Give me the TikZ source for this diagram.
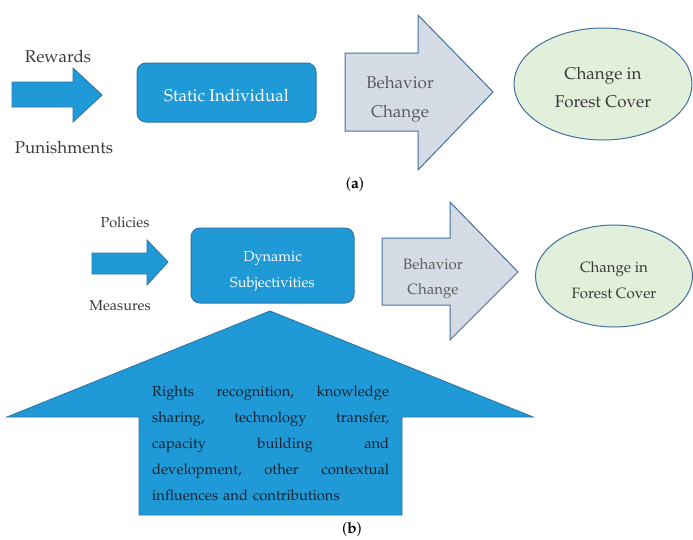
\documentclass[tikz,border=0pt]{standalone}
\usepackage[T1]{fontenc}
\usepackage{mathpazo}
\usetikzlibrary{shapes.geometric}

\definecolor{flowblue}{RGB}{31,154,214}
\definecolor{flowedge}{RGB}{46,117,170}
\definecolor{paleblue}{RGB}{214,220,229}
\definecolor{paleedge}{RGB}{65,113,156}
\definecolor{palegreen}{RGB}{226,239,218}
\definecolor{labelgray}{RGB}{58,58,58}
\definecolor{softgray}{RGB}{92,92,92}
\definecolor{inktext}{RGB}{24,34,46}

\tikzset{
  bluearrow/.style={fill=flowblue, draw=flowedge, line width=0.9pt, line join=miter},
  palearrow/.style={fill=paleblue, draw=paleedge, line width=1pt, line join=miter},
  bluebox/.style={fill=flowblue, draw=flowedge, line width=1pt, rounded corners=9pt, inner sep=0pt},
  boxtext/.style={text=white, align=center, inner sep=0pt},
  forest/.style={ellipse, fill=palegreen, draw=paleedge, line width=1pt, inner sep=0pt},
  foresttext/.style={text=labelgray, align=center, inner sep=0pt},
  sidelabel/.style={text=labelgray, inner sep=0pt},
  arrowlabel/.style={text=softgray, align=center, inner sep=0pt},
  panel/.style={text=black, inner sep=0pt},
}

\begin{document}
\begin{tikzpicture}[x=1pt, y=-1pt]
\useasboundingbox (0,0) rectangle (693,539);

% ---------------- panel (a) ----------------
\draw[bluearrow] (12,82) -- (73,82) -- (73,68) -- (102,95) -- (73,122) -- (73,107) -- (12,107) -- cycle;
\node[sidelabel, font=\fontsize{17}{20}\selectfont] (rewards) at (58,57) {Rewards};
\node[sidelabel, font=\fontsize{17}{20}\selectfont] (punish) at (64,148) {Punishments};

\node[bluebox, minimum width=179pt, minimum height=59pt] (static) at (226.5,92.5) {};
\node[boxtext, font=\fontsize{17}{20}\selectfont] (statictext) at (226.5,96) {Static Individual};

\draw[palearrow] (345,53) -- (418,53) -- (418,15) -- (493,92) -- (418,170) -- (418,131) -- (345,131) -- cycle;
\node[arrowlabel, font=\fontsize{17}{29}\selectfont] (behava) at (400,99) {Behavior\\Change};

\node[forest, minimum width=178pt, minimum height=112pt] (foresta) at (603,84) {};
\node[foresttext, font=\fontsize{17}{28}\selectfont] (forestatext) at (603,87.5) {Change in\\Forest Cover};

\node[panel, font=\fontsize{15.5}{18}\selectfont] (capa) at (355,185) {(\textbf{a})};

% ---------------- panel (b) ----------------
\draw[bluearrow] (92,253) -- (147,253) -- (147,240) -- (168,262) -- (147,285) -- (147,274) -- (92,274) -- cycle;
\node[sidelabel, font=\fontsize{14.5}{17}\selectfont] (policies) at (125,222) {Policies};
\node[sidelabel, font=\fontsize{14.5}{17}\selectfont] (measures) at (120,306) {Measures};

\node[bluebox, minimum width=163pt, minimum height=75pt] (dynamic) at (272.5,265.5) {};
\node[boxtext, font=\fontsize{14.5}{26}\selectfont] (dynamictext) at (272.5,271.5) {Dynamic\\Subjectivities};

\draw[palearrow] (382,238) -- (450,238) -- (450,202) -- (518,272) -- (450,340) -- (450,305) -- (382,305) -- cycle;
\node[arrowlabel, font=\fontsize{15}{25}\selectfont] (behavb) at (433,279) {Behavior\\Change};

\node[forest, minimum width=157pt, minimum height=102pt] (forestb) at (614,276) {};
\node[foresttext, font=\fontsize{15}{26}\selectfont] (forestbtext) at (614,280.5) {Change in\\Forest Cover};

% upward arrow carrying the contextual influences
\draw[bluearrow] (270,311) -- (533,417) -- (402,417) -- (402,515) -- (139,515) -- (139,417) -- (7,417) -- cycle;
\node[text=inktext, text width=237pt, align=left, inner sep=0pt,
      font=\fontsize{14.7}{26}\selectfont, anchor=north west] (influences) at (152,386)
  {Rights\hfill recognition,\hfill knowledge\\
   sharing,\hfill technology\hfill transfer,\\
   capacity\hfill building\hfill and\\
   development,\hfill other\hfill contextual\\
   influences and contributions};

\node[panel, font=\fontsize{15.5}{18}\selectfont] (capb) at (352,530) {(\textbf{b})};
\end{tikzpicture}
\end{document}
